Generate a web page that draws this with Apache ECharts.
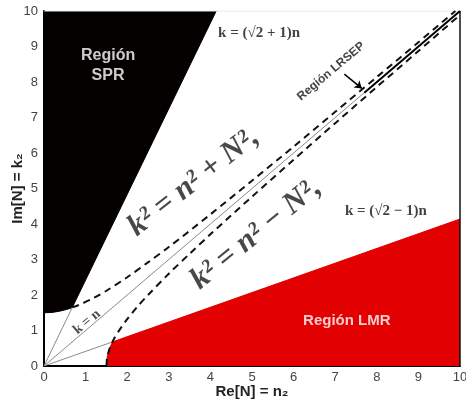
<!DOCTYPE html>
<html><head><meta charset="utf-8">
<script src="https://cdn.jsdelivr.net/npm/echarts@6/dist/echarts.min.js"></script>
<style>html,body{margin:0;padding:0;background:#fff}#c{width:466px;height:405px}</style>
</head><body><div id="c"></div>
<script>
// ---- data ----
const axisMin = 0, axisMax = 10, axisStep = 1;
const xAxisName = 'Re[N] = n\u2082';
const yAxisName = 'Im[N] = k\u2082';
// SPR region lower/right boundary (filled up to the top)
const sprBoundary = [[0,1.5],[0.2,1.51],[0.4,1.55],[0.6,1.61],[0.68,1.65],[4.14,10]];
// LMR region upper/left boundary (filled down to the bottom)
const lmrBoundary = [[1.5,0],[1.52,0.25],[1.56,0.43],[1.6,0.56],[1.65,0.68],[10,4.14]];
// dashed curves k^2 = n^2 + N^2 and k^2 = n^2 - N^2
const upperDashed = [[0.68,1.65],[0.9,1.75],[1.2,1.92],[1.5,2.12],[2,2.5],[2.5,2.92],[3,3.35],[4,4.27],[5,5.22],[6,6.18],[7,7.16],[8,8.14],[9,9.12],[9.89,10]];
const lowerDashed = [[1.5,0],[1.52,0.25],[1.56,0.43],[1.6,0.56],[1.7,0.8],[1.8,0.99],[2,1.32],[2.25,1.68],[2.5,2.0],[3,2.6],[3.5,3.16],[4,3.71],[5,4.77],[6,5.81],[7,6.84],[8,7.86],[9,8.87],[10,9.89]];
// thin gray rays from origin
const rays = [[[0,0],[0.68,1.65]],[[0,0],[10,10]],[[0,0],[1.65,0.68]]];
const lrsepSegment = [[7.7,7.7],[10,10]];
const lrsepArrow = [[7.22,8.22],[7.64,7.82]];
const frameRight = [[10,0],[10,10]];
const frameTop = [[0,10],[10,10]];
// annotation texts and their anchor points (data coords)
const labelTexts = ['Región\nSPR','Región LMR','k = n','k = (\u221A2 + 1)n','k = (\u221A2 \u2212 1)n','k\u00B2 = n\u00B2 + N\u00B2,','k\u00B2 = n\u00B2 \u2212 N\u00B2,','Región LRSEP'];
const labelPoints = [[1.54,8.45],[7.28,1.27],[1.03,1.24],[5.17,9.37],[8.22,4.37],[3.6,5.18],[5.1,3.72],[6.9,8.3]];

// ---- styles ----
const labelStyles = [
  {color:'#fff',fontFamily:'Liberation Sans',fontWeight:'bold',fontSize:16,lineHeight:20,rotate:0},
  {color:'#fff',fontFamily:'Liberation Sans',fontWeight:'bold',fontSize:15,rotate:0},
  {color:'#222',fontFamily:'Liberation Serif',fontWeight:'bold',fontSize:14,rotate:40},
  {color:'#111',fontFamily:'Liberation Serif',fontWeight:'bold',fontSize:15,rotate:0},
  {color:'#111',fontFamily:'Liberation Serif',fontWeight:'bold',fontSize:15,rotate:0},
  {color:'#1a1a1a',fontFamily:'Liberation Serif',fontWeight:'bold',fontStyle:'italic',fontSize:31,rotate:38},
  {color:'#1a1a1a',fontFamily:'Liberation Serif',fontWeight:'bold',fontStyle:'italic',fontSize:31,rotate:39},
  {color:'#111',fontFamily:'Liberation Sans',fontWeight:'bold',fontSize:12,rotate:40}
];

const chart = echarts.init(document.getElementById('c'), null, {renderer:'canvas'});
const plain = {show:false};
chart.setOption({
  backgroundColor:'#fff',
  animation:false,
  grid:{left:44,right:6,top:11,bottom:39,containLabel:false,outerBoundsMode:'none'},
  xAxis:{type:'value',min:axisMin,max:axisMax,interval:axisStep,
    axisLine:{lineStyle:{color:'#000',width:2}},axisTick:plain,splitLine:plain,
    axisLabel:{color:'#444',fontSize:13,margin:5,fontFamily:'Liberation Sans'},
    name:xAxisName,nameLocation:'middle',nameGap:18,nameMoveOverlap:false,
    nameTextStyle:{color:'#222',fontWeight:'bold',fontSize:15,fontFamily:'Liberation Sans'}},
  yAxis:{type:'value',min:axisMin,max:axisMax,interval:axisStep,
    axisLine:{lineStyle:{color:'#000',width:2}},axisTick:plain,splitLine:plain,
    axisLabel:{color:'#444',fontSize:13,margin:6,fontFamily:'Liberation Sans'},
    name:yAxisName,nameLocation:'middle',nameGap:19,nameMoveOverlap:false,
    nameTextStyle:{color:'#222',fontWeight:'bold',fontSize:15,fontFamily:'Liberation Sans'}},
  series:[
    {type:'line',data:sprBoundary,showSymbol:false,z:1,
      lineStyle:{color:'#050000',width:1},areaStyle:{color:'#050000',opacity:1,origin:'end'}},
    {type:'line',data:lmrBoundary,showSymbol:false,z:1,
      lineStyle:{color:'#e30000',width:1},areaStyle:{color:'#e30000',opacity:1,origin:'start'}},
    {type:'line',data:frameRight,showSymbol:false,z:2,lineStyle:{color:'#111',width:1.5}},
    {type:'line',data:frameTop,showSymbol:false,z:2,lineStyle:{color:'#e4e4e4',width:1}},
    {type:'lines',coordinateSystem:'cartesian2d',z:3,
      data:rays.map(c=>({coords:c})),lineStyle:{color:'#8a8a8a',width:1,opacity:1}},
    {type:'line',data:upperDashed,showSymbol:false,smooth:0.3,z:4,
      lineStyle:{color:'#111',width:2,type:[7,5]}},
    {type:'line',data:lowerDashed,showSymbol:false,smooth:0.3,z:4,
      lineStyle:{color:'#111',width:2,type:[7,5]}},
    {type:'line',data:lrsepSegment,showSymbol:false,z:5,lineStyle:{color:'#000',width:2}},
    {type:'lines',coordinateSystem:'cartesian2d',z:5,symbol:['none','arrow'],symbolSize:7,
      data:[{coords:lrsepArrow}],lineStyle:{color:'#000',width:1.5,opacity:1}},
    {type:'scatter',z:6,symbolSize:1,itemStyle:{color:'rgba(0,0,0,0)'},silent:true,
      data:labelTexts.map((t,i)=>({value:labelPoints[i],
        label:Object.assign({show:true,position:'inside',formatter:t,align:'center',verticalAlign:'middle',textBorderWidth:0},labelStyles[i])}))}
  ]
});
</script></body></html>
